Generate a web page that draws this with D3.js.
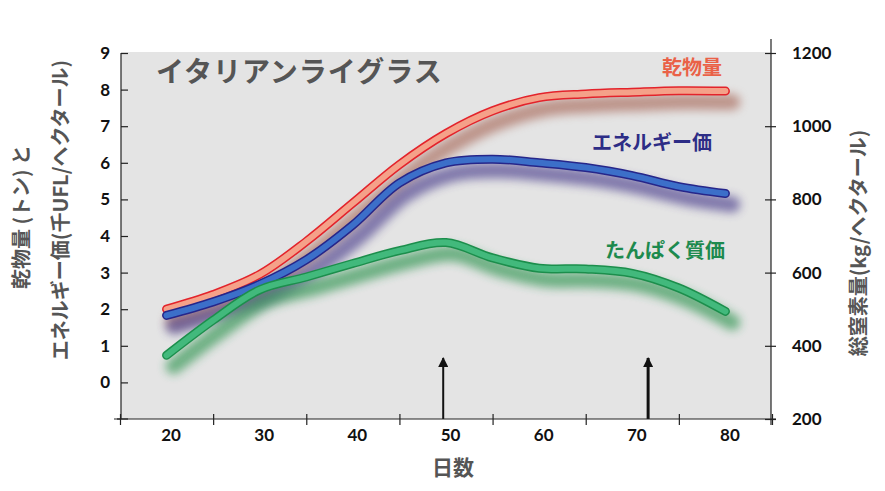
<!DOCTYPE html>
<html><head><meta charset="utf-8">
<script src="https://cdn.jsdelivr.net/npm/d3@7"></script>
<style>
body{margin:0;background:#fff;}
svg{display:block;}
</style></head>
<body>
<svg id="chart" width="885" height="491"></svg>
<script>
const days = [20,25,30,35,40,45,50,55,60,65,70,75,80];
const dryMatter = [2.0,2.4,2.95,3.85,4.9,5.95,6.8,7.42,7.78,7.88,7.93,7.97,7.96];
const energyValue = [1.83,2.2,2.68,3.35,4.3,5.45,6.0,6.1,6.0,5.87,5.65,5.35,5.16];
const proteinValue = [374,470,553,588,625,660,682,640,612,610,598,558,494];
const leftTicks = [0,1,2,3,4,5,6,7,8,9];
const rightTicks = [200,400,600,800,1000,1200];
const xLabelTicks = [20,30,40,50,60,70,80];
const xMinorTicks = [15,25,35,45,55,65,75,85];
const arrowDays = [49.7,71.7];

const svg = d3.select("#chart");
const L=121, R=771, T=53, B=419;
const x = d3.scaleLinear().domain([15,85]).range([L-1,R+1]);
const yL = d3.scaleLinear().domain([-1,9]).range([B,T]);
const yR = d3.scaleLinear().domain([200,1200]).range([B,T]);
const font = "Lato, 'Noto Sans', sans-serif";
const cjk = "'Noto Sans CJK JP', 'Noto Sans', sans-serif";

const defs = svg.append("defs");
const f = defs.append("filter").attr("id","blur").attr("x","-20%").attr("y","-50%").attr("width","140%").attr("height","200%");
f.append("feGaussianBlur").attr("stdDeviation",5);
defs.append("marker").attr("id","ah").attr("viewBox","0 0 10 10").attr("refX",9).attr("refY",5)
  .attr("markerWidth",10).attr("markerHeight",10).attr("markerUnits","userSpaceOnUse").attr("orient","auto")
  .append("path").attr("d","M0,0 L10,5 L0,10 Z").attr("fill","#111");

svg.append("rect").attr("x",L).attr("y",T-1).attr("width",R-L).attr("height",B-T+1).attr("fill","#e4e4e4");

// arrows
arrowDays.forEach((d,i)=>{
  svg.append("line").attr("x1",x(d)).attr("x2",x(d)).attr("y1",B).attr("y2",358)
    .attr("stroke","#111").attr("stroke-width",i===0?2:3).attr("marker-end","url(#ah)");
});

const series = [
  {vals: dryMatter, y: yL, fill:"#f5a189", border:"#e3232b", shadow:"#a8695a"},
  {vals: energyValue, y: yL, fill:"#3c6fc9", border:"#26268a", shadow:"#4a3c8c"},
  {vals: proteinValue, y: yR, fill:"#42b97c", border:"#1c8e4c", shadow:"#2f9450"}
];
series.forEach(s=>{
  const line = d3.line().x((d,i)=>x(days[i])).y(d=>s.y(d)).curve(d3.curveCatmullRom.alpha(0.5));
  svg.append("path").datum(s.vals).attr("d",line).attr("fill","none").attr("stroke",s.shadow)
    .attr("stroke-width",16).attr("stroke-linecap","round").attr("opacity",0.65)
    .attr("filter","url(#blur)").attr("transform","translate(7,11)");
});
series.forEach(s=>{
  const line = d3.line().x((d,i)=>x(days[i])).y(d=>s.y(d)).curve(d3.curveCatmullRom.alpha(0.5));
  svg.append("path").datum(s.vals).attr("d",line).attr("fill","none").attr("stroke",s.border)
    .attr("stroke-width",9).attr("stroke-linecap","round").attr("stroke-linejoin","round");
  svg.append("path").datum(s.vals).attr("d",line).attr("fill","none").attr("stroke",s.fill)
    .attr("stroke-width",6).attr("stroke-linecap","round").attr("stroke-linejoin","round");
});

// axes
const axStyle = g=>{
  g.select(".domain").attr("stroke","#222").attr("stroke-width",1.2);
  g.selectAll(".tick line").attr("stroke","#222").attr("stroke-width",1.2);
  g.selectAll("text").attr("font-family",font).attr("font-weight","bold").attr("font-size",17).attr("fill","#111");
};
const gl = svg.append("g").attr("transform",`translate(${L},0)`)
  .call(d3.axisLeft(yL).tickValues(leftTicks).tickSizeOuter(0).tickSize(4).tickPadding(7));
gl.select(".domain").attr("d",`M0,${T}V${B}`);
gl.selectAll(".tick line").attr("x2",7);
axStyle(gl);
const gr = svg.append("g").attr("transform",`translate(${R},0)`)
  .call(d3.axisRight(yR).tickValues(rightTicks).tickFormat(d3.format("d")).tickSizeOuter(0).tickSize(5).tickPadding(16));
gr.select(".domain").attr("d",`M0,${T-14}V${B+6}`);
gr.selectAll(".tick line").attr("x1",-6);
axStyle(gr);
const gb = svg.append("g").attr("transform",`translate(0,${B})`)
  .call(d3.axisBottom(x).tickValues(xMinorTicks).tickSizeOuter(0).tickSize(6).tickFormat(""));
gb.select(".domain").attr("d",`M${L-7},0H${R+5}`);
gb.selectAll(".tick line").attr("y1",-5);
axStyle(gb);
const gb2 = svg.append("g").attr("transform",`translate(4,${B})`)
  .call(d3.axisBottom(x).tickValues(xLabelTicks).tickSize(0).tickPadding(10));
gb2.select(".domain").remove();
axStyle(gb2);
svg.append("line").attr("x1",L-4).attr("x2",L+7).attr("y1",B).attr("y2",B).attr("stroke","#222").attr("stroke-width",1.2);

// texts
svg.append("text").attr("x",156).attr("y",82).text("イタリアンライグラス")
  .attr("font-family",cjk).attr("font-weight","bold").attr("font-size",28).attr("fill","#555").attr("letter-spacing",1);
svg.append("text").attr("x",722).attr("y",75).attr("text-anchor","end").text("乾物量")
  .attr("font-family",cjk).attr("font-weight","bold").attr("font-size",20).attr("fill","#ea6147");
svg.append("text").attr("x",712).attr("y",150).attr("text-anchor","end").text("エネルギー価")
  .attr("font-family",cjk).attr("font-weight","bold").attr("font-size",20).attr("fill","#2d2d86");
svg.append("text").attr("x",725).attr("y",258).attr("text-anchor","end").text("たんぱく質価")
  .attr("font-family",cjk).attr("font-weight","bold").attr("font-size",20).attr("fill","#1d8a4e");

svg.append("text").attr("x",453).attr("y",475).attr("text-anchor","middle").text("日数")
  .attr("font-family",cjk).attr("font-weight","bold").attr("font-size",21).attr("fill","#555");
svg.append("text").attr("transform","translate(29,217) rotate(-90)").attr("text-anchor","middle").text("乾物量 (トン) と")
  .attr("font-family",cjk).attr("font-weight","bold").attr("font-size",20).attr("fill","#555");
svg.append("text").attr("transform","translate(68,210) rotate(-90)").attr("text-anchor","middle").text("エネルギー価(千UFL/ヘクタール)")
  .attr("font-family",cjk).attr("font-weight","bold").attr("font-size",20).attr("fill","#555");
svg.append("text").attr("transform","translate(866,243) rotate(-90)").attr("text-anchor","middle").text("総窒素量(kg/ヘクタール)")
  .attr("font-family",cjk).attr("font-weight","bold").attr("font-size",20).attr("fill","#555");
</script>
</body></html>
